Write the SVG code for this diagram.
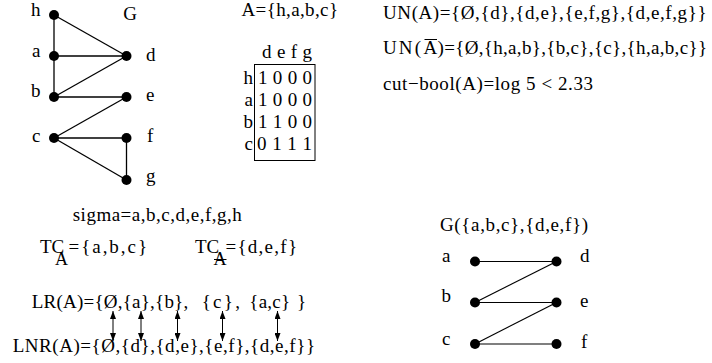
<svg xmlns="http://www.w3.org/2000/svg" width="712" height="363" viewBox="0 0 712 363">
<style>
text{font-family:"Liberation Serif","Times New Roman",serif;font-size:19px;fill:#000}
.sub{font-size:18px}
.e{stroke:#000;stroke-width:1.3;fill:none}
.b{stroke:#000;stroke-width:1.2;fill:none}
.n{fill:#000}
.ar{stroke:#000;stroke-width:1;marker-start:url(#ah);marker-end:url(#ah)}
</style>
<defs>
<marker id="ah" viewBox="0 0 8 6" refX="8" refY="3" markerWidth="8" markerHeight="6" orient="auto-start-reverse" markerUnits="userSpaceOnUse">
<path d="M0,0 L8,3 L0,6 Z" fill="#000"/>
</marker>
</defs>
<rect width="712" height="363" fill="#fff"/>

<g id="graphG">
<text x="137" y="20" text-anchor="end">G</text>
<g id="connectors-G">
<line class="e" x1="54" y1="15" x2="54" y2="97"/>
<line class="e" x1="54" y1="15" x2="126.5" y2="56"/>
<line class="e" x1="54" y1="56" x2="126.5" y2="56"/>
<line class="e" x1="54" y1="97" x2="126.5" y2="56"/>
<line class="e" x1="54" y1="97" x2="126.5" y2="97"/>
<line class="e" x1="54" y1="138" x2="126.5" y2="97"/>
<line class="e" x1="54" y1="138" x2="126.5" y2="138"/>
<line class="e" x1="54" y1="138" x2="126.5" y2="180"/>
<line class="e" x1="126.5" y1="138" x2="126.5" y2="180"/>
</g>
<g id="node-h"><circle class="n" cx="54" cy="15" r="5"/><text x="31" y="16">h</text></g>
<g id="node-a"><circle class="n" cx="54" cy="56" r="5"/><text x="32" y="57">a</text></g>
<g id="node-b"><circle class="n" cx="54" cy="97" r="5"/><text x="31" y="97">b</text></g>
<g id="node-c"><circle class="n" cx="54" cy="138" r="5"/><text x="32" y="142">c</text></g>
<g id="node-d"><circle class="n" cx="126.5" cy="56" r="5"/><text x="146" y="61">d</text></g>
<g id="node-e"><circle class="n" cx="126.5" cy="97" r="5"/><text x="146" y="101">e</text></g>
<g id="node-f"><circle class="n" cx="126.5" cy="138" r="5"/><text x="147" y="142">f</text></g>
<g id="node-g"><circle class="n" cx="126.5" cy="180" r="5"/><text x="146" y="182">g</text></g>
</g>

<g id="matrix">
<text x="241.5" y="16" textLength="96.5" lengthAdjust="spacing">A={h,a,b,c}</text>
<text x="262" y="58" textLength="50" lengthAdjust="spacing">d e f g</text>
<rect x="254.5" y="64.5" width="60.5" height="96" fill="none" stroke="#000" stroke-width="1"/>
<text x="253" y="84" text-anchor="end">h</text>
<text x="253" y="106" text-anchor="end">a</text>
<text x="253" y="128" text-anchor="end">b</text>
<text x="253" y="150" text-anchor="end">c</text>
<text x="258" y="84" textLength="54" lengthAdjust="spacing">1 0 0 0</text>
<text x="258" y="106" textLength="54" lengthAdjust="spacing">1 0 0 0</text>
<text x="258" y="128" textLength="54" lengthAdjust="spacing">1 1 0 0</text>
<text x="257" y="150" textLength="55" lengthAdjust="spacing">0 1 1 1</text>
</g>

<g id="formulas">
<text x="383" y="19" textLength="323.5" lengthAdjust="spacing">UN(A)={Ø,{d},{d,e},{e,f,g},{d,e,f,g}}</text>
<text x="383" y="54" textLength="38" lengthAdjust="spacing">UN(</text>
<text x="423.5" y="54">A</text>
<line x1="424.5" y1="39.5" x2="437" y2="39.5" stroke="#000" stroke-width="1"/>
<text x="437.5" y="54" textLength="269.5" lengthAdjust="spacing">)={Ø,{h,a,b},{b,c},{c},{h,a,b,c}}</text>
<text x="383" y="90" textLength="210" lengthAdjust="spacing">cut−bool(A)=log 5 &lt; 2.33</text>
</g>

<g id="sets">
<text x="72.7" y="221" textLength="169" lengthAdjust="spacing">sigma=a,b,c,d,e,f,g,h</text>
<text x="40" y="253">TC</text>
<text class="sub" x="55" y="265">A</text>
<text x="68.5" y="253" textLength="78.5" lengthAdjust="spacing">={a,b,c}</text>
<text x="195" y="253">TC</text>
<text class="sub" x="213.5" y="265">A</text>
<line x1="214" y1="259.5" x2="226.5" y2="259.5" stroke="#000" stroke-width="1"/>
<text x="225.5" y="253" textLength="71.5" lengthAdjust="spacing">={d,e,f}</text>

<text x="31.7" y="308" textLength="156.5" lengthAdjust="spacing">LR(A)={Ø,{a},{b},</text>
<text x="201.7" y="308" textLength="38.3" lengthAdjust="spacing">{c},</text>
<text x="249.3" y="308" textLength="40.7" lengthAdjust="spacing">{a,c}</text>
<text x="297" y="308">}</text>
<text x="12.7" y="352" textLength="302.3" lengthAdjust="spacing">LNR(A)={Ø,{d},{d,e},{e,f},{d,e,f}}</text>
</g>

<g id="connectors-LR">
<line class="ar" x1="113" y1="341" x2="113" y2="311"/>
<line class="ar" x1="141" y1="341" x2="141" y2="311"/>
<line class="ar" x1="177.5" y1="341" x2="177.5" y2="311"/>
<line class="ar" x1="222.5" y1="341" x2="222.5" y2="311"/>
<line class="ar" x1="277.5" y1="341" x2="277.5" y2="311"/>
</g>

<g id="graphB">
<text x="440" y="231" textLength="148" lengthAdjust="spacing">G({a,b,c},{d,e,f})</text>
<g id="connectors-B">
<line class="b" x1="475" y1="261.5" x2="556.5" y2="261.5"/>
<line class="b" x1="475" y1="302.5" x2="556.5" y2="261.5"/>
<line class="b" x1="475" y1="302.5" x2="556.5" y2="302.5"/>
<line class="b" x1="475" y1="344" x2="556.5" y2="302.5"/>
<line class="b" x1="475" y1="344" x2="556.5" y2="344"/>
</g>
<g id="bnode-a"><circle class="n" cx="475" cy="261.5" r="5"/><text x="442" y="262">a</text></g>
<g id="bnode-b"><circle class="n" cx="475" cy="302.5" r="5"/><text x="441.5" y="302">b</text></g>
<g id="bnode-c"><circle class="n" cx="475" cy="344" r="5"/><text x="442" y="345">c</text></g>
<g id="bnode-d"><circle class="n" cx="556.5" cy="261.5" r="5"/><text x="580" y="262">d</text></g>
<g id="bnode-e"><circle class="n" cx="556.5" cy="302.5" r="5"/><text x="580" y="307">e</text></g>
<g id="bnode-f"><circle class="n" cx="556.5" cy="344" r="5"/><text x="581" y="348">f</text></g>
</g>
</svg>
